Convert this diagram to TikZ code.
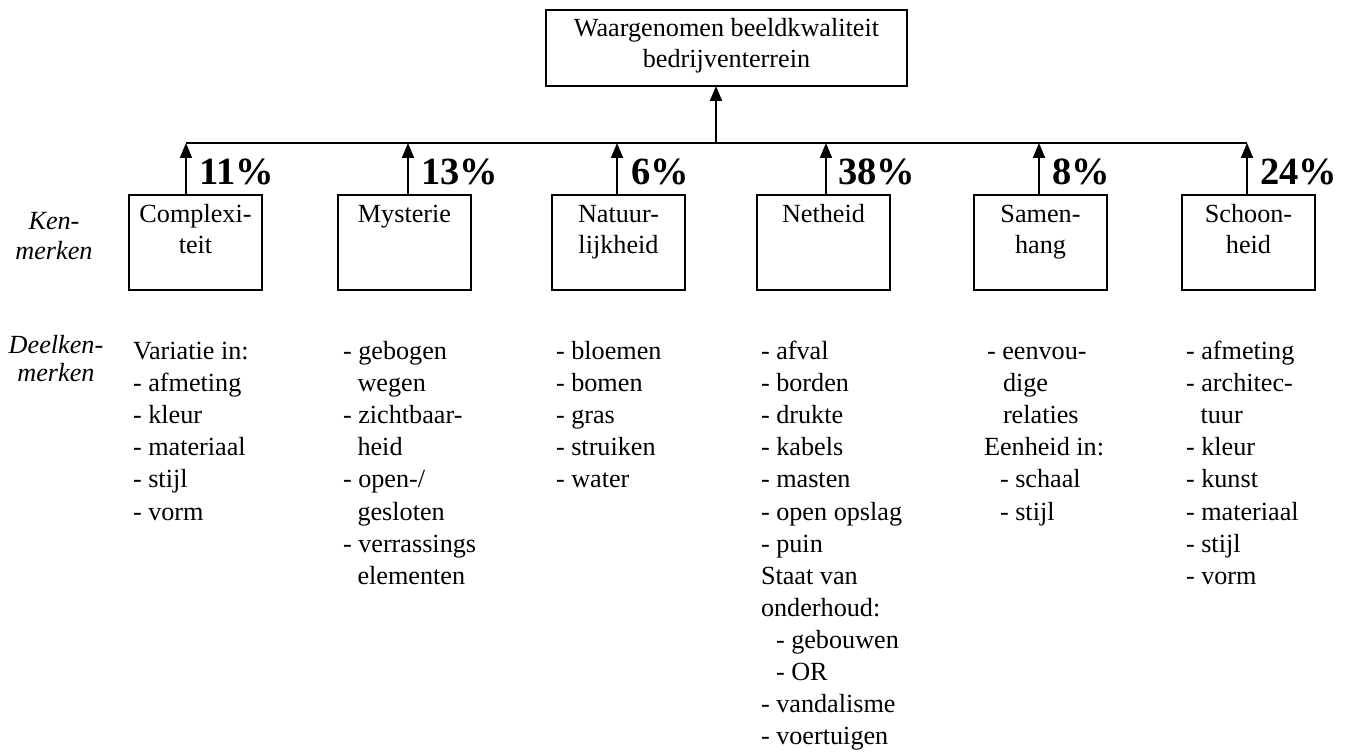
\documentclass[tikz,border=0pt]{standalone}
\usepackage{fontspec}
\setmainfont{Liberation Serif}
\usetikzlibrary{arrows.meta}
\begin{document}
\begin{tikzpicture}[x=1pt,y=-1pt,
  every node/.style={inner sep=0pt, outer sep=0pt},
  kbox/.style={draw, line width=1.9pt, minimum width=133pt, minimum height=95pt, anchor=north west},
  boxtxt/.style={font=\fontsize{26.2}{31}\selectfont, align=center, anchor=base},
  listtxt/.style={font=\fontsize{26.2}{32.1}\selectfont, align=left, anchor=base west},
  pct/.style={font=\fontsize{38.5}{40}\selectfont\bfseries, anchor=base west},
  side/.style={font=\fontsize{26.2}{30}\selectfont\itshape, align=center, anchor=base},
  arr/.style={line width=1.9pt, -{Triangle[length=15pt,width=12pt]}},
  ln/.style={line width=1.9pt}]
\useasboundingbox (0,0) rectangle (1348,754);

% top box
\node[draw, line width=1.9pt, minimum width=361pt, minimum height=76pt, anchor=north west] (top) at (546,10) {};
\node[boxtxt] (toptxt) at (726.5,68) {Waargenomen beeldkwaliteit\\bedrijventerrein};

% horizontal bus
\coordinate (hl) at (186,143);
\coordinate (hr) at (1247,143);
\coordinate (hm) at (716,143);
\draw[ln] (hl) -- (hr);
\draw[arr] (hm) -- (top.south -| hm);

% boxes
\node[kbox] (b1) at (129,195) {};
\node[kbox] (b2) at (338,195) {};
\node[kbox] (b3) at (552,195) {};
\node[kbox] (b4) at (757,195) {};
\node[kbox] (b5) at (974,195) {};
\node[kbox] (b6) at (1182,195) {};

\node[boxtxt] (t1) at ([yshift=-58.5pt]b1.north) {Complexi-\\teit};
\node[boxtxt] (t2) at ([yshift=-27.5pt]b2.north) {Mysterie};
\node[boxtxt] (t3) at ([yshift=-58.5pt]b3.north) {Natuur-\\lijkheid};
\node[boxtxt] (t4) at ([yshift=-27.5pt]b4.north) {Netheid};
\node[boxtxt] (t5) at ([yshift=-58.5pt]b5.north) {Samen-\\hang};
\node[boxtxt] (t6) at ([yshift=-58.5pt]b6.north) {Schoon-\\heid};

% arrow coordinates on bus
\coordinate (a1) at (186,143);
\coordinate (a2) at (408,143);
\coordinate (a3) at (617,143);
\coordinate (a4) at (826,143);
\coordinate (a5) at (1039,143);
\coordinate (a6) at (1247,143);
\foreach \i in {1,...,6} {
  \draw[arr] (b\i.north -| a\i) -- (a\i);
}

% percentages
\node[pct] (p1) at (199,185) {11\%};
\node[pct] (p2) at (421,185) {13\%};
\node[pct] (p3) at (631,185) {6\%};
\node[pct] (p4) at (838,185) {38\%};
\node[pct] (p5) at (1052,185) {8\%};
\node[pct] (p6) at (1260,185) {24\%};

% side labels
\node[side] (k) at (54,259) {Ken-\\merken};
\node[side, font=\fontsize{26.2}{28}\selectfont\itshape] (d) at (56,381) {Deelken-\\merken};

% lists (anchored at the baseline of their last line)
\node[listtxt] (l1) at (133,520) {Variatie in:\\- afmeting\\- kleur\\- materiaal\\- stijl\\- vorm};
\node[listtxt] (l2) at (343,584.2) {- gebogen\\\hspace*{14.5pt}wegen\\- zichtbaar-\\\hspace*{14.5pt}heid\\- open-/\\\hspace*{14.5pt}gesloten\\- verrassings\\\hspace*{14.5pt}elementen};
\node[listtxt] (l3) at (556,487.9) {- bloemen\\- bomen\\- gras\\- struiken\\- water};
\node[listtxt] (l4) at (761,744.7) {- afval\\- borden\\- drukte\\- kabels\\- masten\\- open opslag\\- puin\\Staat van\\onderhoud:\\\hspace*{15pt}- gebouwen\\\hspace*{15pt}- OR\\- vandalisme\\- voertuigen};
\node[listtxt] (l5) at (984,520) {\hspace*{3pt}- eenvou-\\\hspace*{19pt}dige\\\hspace*{19pt}relaties\\Eenheid in:\\\hspace*{16pt}- schaal\\\hspace*{16pt}- stijl};
\node[listtxt] (l6) at (1186,584.2) {- afmeting\\- architec-\\\hspace*{14.5pt}tuur\\- kleur\\- kunst\\- materiaal\\- stijl\\- vorm};
\end{tikzpicture}
\end{document}
